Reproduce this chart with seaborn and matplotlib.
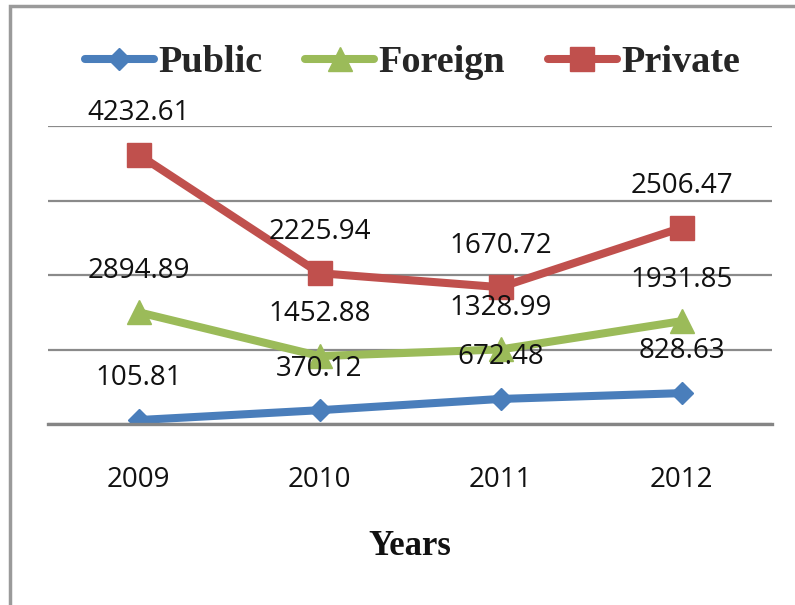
import numpy as np
import pandas as pd
import seaborn as sns
import matplotlib.pyplot as plt
from matplotlib.patches import Rectangle

years = ["2009", "2010", "2011", "2012"]
public = [105.81, 370.12, 672.48, 828.63]
foreign = [2894.89, 1452.88, 1328.99, 1931.85]
private = [4232.61, 2225.94, 1670.72, 2506.47]

series_names = ["Public", "Foreign", "Private"]
series_values = [public, foreign, private]
colors = ["#4A7EBB", "#9BBB59", "#C0504D"]
markers = ["D", "^", "s"]
marker_sizes = [11, 17, 17]

sns.set_theme(style="white")
plt.rcParams["font.family"] = ["Open Sans", "DejaVu Sans"]

fig = plt.figure(figsize=(7.95, 6.05), dpi=100)
ax = fig.add_axes([48 / 795, 1 - 424 / 605, (772 - 48) / 795, (424 - 126) / 605])

# stacked line chart: each series sits on top of the ones before it
stack = np.cumsum(np.array(series_values), axis=0)
x = np.arange(len(years))
rows = []
for name, vals, levels in zip(series_names, series_values, stack):
    for xi, v, lv in zip(x, vals, levels):
        rows.append({"x": xi, "value": v, "level": lv, "series": name})
df = pd.DataFrame(rows)

for name, col, mk, ms in zip(series_names, colors, markers, marker_sizes):
    sub = df[df["series"] == name]
    sns.lineplot(data=sub, x="x", y="level", color=col, lw=5.8, marker=mk,
                 markersize=ms, markeredgecolor=col, markeredgewidth=1,
                 label=name, ax=ax, legend=False)
    for _, r in sub.iterrows():
        ax.annotate(f"{r['value']:.2f}", (r["x"], r["level"]),
                    xytext=(0, 32.5), textcoords="offset points",
                    ha="center", va="center_baseline", fontsize=20,
                    color="#111111", zorder=5)

ax.set_xlim(-0.5, 3.5)
ax.set_ylim(0, 8000)
ax.set_yticks([0, 2000, 4000, 6000, 8000])
ax.set_yticklabels([])
ax.set_xticks(x)
ax.set_xticklabels(years, fontsize=20, color="#111111")
ax.tick_params(axis="both", length=0)
ax.tick_params(axis="x", pad=30)
ax.grid(axis="y", color="#8a8a8a", lw=1.6)
ax.grid(axis="x", visible=False)
ax.set_axisbelow(True)
for side in ["left", "right", "top"]:
    ax.spines[side].set_visible(False)
ax.spines["bottom"].set_color("#858585")
ax.spines["bottom"].set_linewidth(2.4)
ax.set_ylabel("")
ax.set_xlabel("Years", fontsize=25, fontweight="bold",
              family="Liberation Serif", labelpad=26, color="#111111")

handles, labels = ax.get_legend_handles_labels()
fig.legend(handles, labels, loc="center", bbox_to_anchor=(0.519, 1 - 63 / 605),
           ncol=3, frameon=False, handlelength=1.8, handletextpad=0.12,
           columnspacing=1.12,
           prop={"family": "Liberation Serif", "weight": "bold", "size": 27.5})

# outer chart frame
fig.patches.append(Rectangle((10 / 795, -0.1), 1.1, 1 - 6 / 605 + 0.1,
                             transform=fig.transFigure, fill=False,
                             edgecolor="#9a9a9a", lw=2.5))

fig.savefig("out.png", dpi=100, facecolor="white")
